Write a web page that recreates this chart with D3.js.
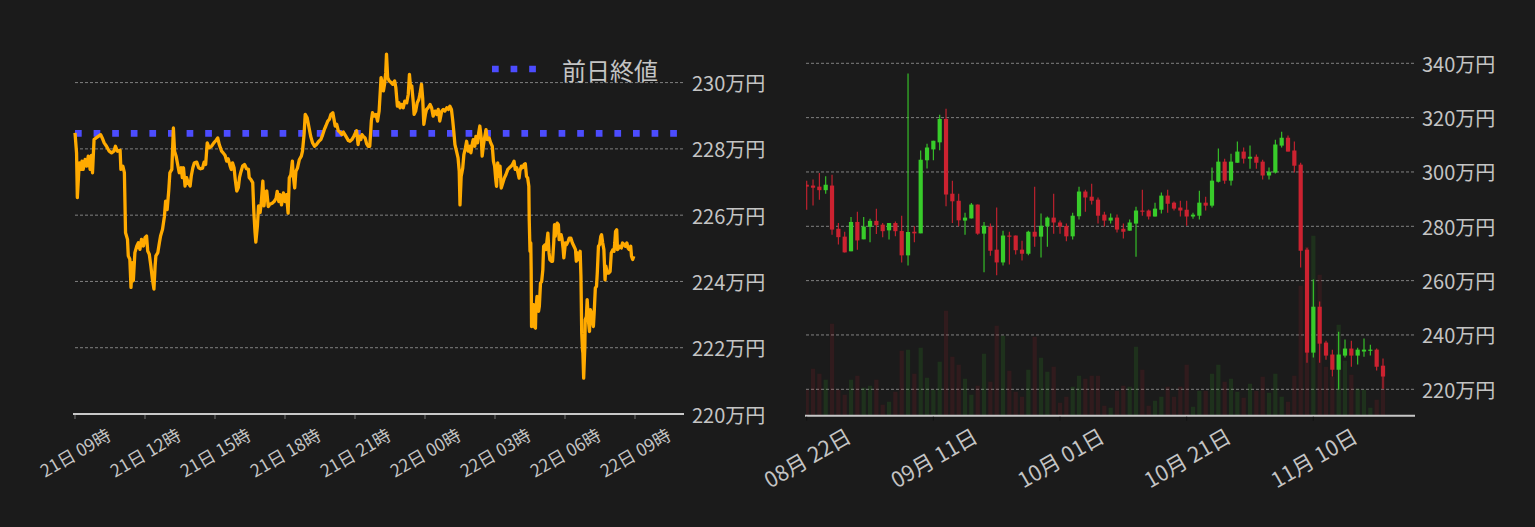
<!DOCTYPE html>
<html lang="ja">
<head>
<meta charset="UTF-8">
<title>ビットコイン チャート</title>
<script src="https://d3js.org/d3.v7.min.js"></script>
<style>
  body { margin: 0; background: #1b1b1b; }
  text { font-family: "Noto Sans CJK JP", "Noto Sans", sans-serif; fill: #c4c4c4; }
</style>
</head>
<body>
<svg width="1535" height="527" id="mainsvg"></svg>
<script>
// ---- left: intraday (minutes after 21日 09:00, 万円) ----
const prevClose = 228.47;
const intraday = [
  [0,228.48],[4,227.88],[6,226.53],[11,227.58],[15,227.38],[18,227.63],[21,227.38],[26,227.68],[30,227.48],[34,227.78],
  [39,227.38],[42,227.80],[45,227.28],[49,228.28],[54,228.33],[60,228.38],[66,228.43],[70,228.33],[75,228.18],[81,228.08],
  [88,227.93],[94,227.88],[100,227.93],[104,228.08],[109,227.93],[116,227.96],[118,227.38],[123,227.48],[127,227.28],[130,225.47],
  [135,225.27],[137,224.77],[141,224.67],[144,223.82],[147,224.57],[150,224.02],[154,224.87],[159,225.07],[163,225.17],[167,224.97],
  [171,225.27],[176,225.07],[180,225.32],[184,225.37],[187,224.92],[191,224.82],[195,224.47],[199,224.07],[203,223.77],[206,224.47],
  [208,224.77],[213,224.87],[217,225.17],[220,225.37],[225,225.57],[230,225.97],[233,226.42],[237,226.17],[241,226.73],[244,227.28],
  [249,227.38],[253,228.63],[256,227.93],[260,227.78],[264,227.53],[268,227.28],[273,227.43],[276,227.13],[279,227.43],[283,226.88],
  [287,227.13],[291,226.98],[296,226.88],[299,227.18],[303,227.43],[307,227.58],[313,227.60],[318,227.43],[323,227.40],[328,227.42],
  [332,227.60],[336,227.53],[340,228.18],[345,228.03],[351,228.08],[357,228.18],[363,228.26],[367,228.33],[371,228.13],[377,227.93],
  [381,227.88],[386,227.80],[390,227.63],[394,227.70],[399,227.48],[402,227.38],[405,227.58],[409,227.43],[412,227.08],[416,226.73],
  [420,226.83],[423,227.13],[426,227.28],[431,227.48],[436,227.53],[441,227.40],[446,227.38],[448,227.13],[452,227.08],[457,226.98],
  [460,226.08],[463,225.47],[465,225.19],[469,225.67],[472,226.28],[476,226.08],[479,226.38],[483,227.03],[486,226.28],[489,226.68],
  [493,226.73],[497,226.26],[501,226.33],
  [507,226.36],[512,226.41],[517,226.51],[520,226.72],[524,226.41],[527,226.62],[531,226.31],[536,226.67],[540,226.41],[544,226.62],
  [548,226.06],[551,227.12],[555,227.22],[559,227.63],[561,227.22],[565,226.82],[568,227.32],[572,227.42],[577,227.68],[582,227.78],
  [585,227.93],[589,228.43],[592,229.04],[597,228.94],[602,228.63],[606,228.38],[611,228.18],[616,228.08],[621,228.13],[627,228.23],
  [632,228.28],[637,228.43],[641,228.58],[645,228.69],[650,228.84],[654,228.89],[658,229.04],[663,229.09],[666,228.89],[669,228.69],
  [673,228.74],[677,228.55],[681,228.51],[686,228.43],[690,228.51],[694,228.43],[699,228.33],[703,228.25],[707,228.23],[712,228.28],
  [717,228.38],[721,228.48],[724,228.55],[728,228.13],[731,228.38],[735,228.28],[738,228.43],[741,228.38],[746,228.33],[750,228.15],
  [754,228.08],[758,228.08],[762,228.84],[765,229.09],[770,228.99],[774,229.04],[778,228.84],[782,229.14],[784,229.54],[787,230.15],
  [789,230.05],[793,229.75],[796,229.95],[799,230.30],[801,230.86],[804,230.15],[808,230.05],[813,230.00],[817,229.95],[822,230.05],
  [825,229.85],[829,229.29],[833,229.39],[836,229.24],[840,229.34],[844,229.24],[848,229.44],[853,229.39],[857,229.65],[860,230.25],
  [863,229.85],[866,229.90],[870,229.39],[872,229.04],[876,229.14],[880,229.39],[884,229.49],[887,229.65],[891,229.95],[894,229.54],
  [897,228.74],[901,229.04],[904,229.19],[908,229.24],[913,229.34],[917,229.24],[921,228.99],[926,229.14],[930,229.04],[934,229.19],
  [938,228.84],[943,229.14],[947,229.19],[951,229.14],[956,229.24],[960,229.19],[964,229.29],[968,229.19],[971,228.89],[974,228.53],
  [977,228.13],[981,227.93],[985,227.73],[988,227.32],[990,226.31],[993,227.17],[997,227.42],[1000,227.83],[1004,228.03],[1007,228.23],
  [1011,227.93],[1016,228.08],
  [1018,227.88],[1022,228.18],[1024,228.28],[1028,228.08],[1031,228.38],[1035,228.18],[1038,228.48],[1041,228.69],[1045,228.28],[1047,227.78],
  [1050,228.08],[1053,228.33],[1057,228.58],[1060,228.28],[1065,228.33],[1069,228.18],[1073,228.08],[1076,227.63],[1079,227.48],[1082,227.07],
  [1084,226.87],[1087,227.58],[1089,227.17],[1093,227.48],[1096,226.82],[1100,226.97],[1104,227.12],[1108,227.22],[1113,227.38],[1117,227.43],
  [1122,227.48],[1125,227.53],[1129,227.63],[1132,227.38],[1136,227.43],[1139,227.28],[1142,227.12],[1144,227.33],[1148,227.48],[1151,227.43],
  [1155,227.53],[1158,227.55],[1161,227.17],[1164,227.12],[1167,226.87],[1168,225.87],[1170,224.91],[1172,225.16],[1173,224.35],[1174,222.64],
  [1176,222.94],[1179,223.30],[1181,222.64],[1184,222.59],[1185,223.10],[1188,223.55],[1191,223.35],[1192,223.10],[1194,223.25],[1197,223.95],
  [1200,224.00],[1203,224.35],[1205,225.06],[1209,225.11],[1211,224.96],[1214,225.26],[1216,225.46],[1219,224.86],[1221,224.66],[1225,224.61],
  [1228,224.61],[1231,225.16],[1233,225.71],[1235,225.36],[1238,225.66],[1240,225.76],[1243,225.71],[1245,225.26],[1247,225.36],[1250,225.41],
  [1252,225.31],[1255,225.01],[1257,224.71],[1261,225.16],[1264,225.11],[1268,225.21],[1271,225.31],[1275,225.31],[1279,225.16],[1283,225.06],
  [1287,224.96],[1289,224.61],[1292,224.86],[1295,224.66],[1299,224.91],[1301,224.15],[1303,222.44],[1305,221.94],[1306,221.84],[1308,221.08],
  [1311,222.04],[1312,222.84],[1315,222.94],[1317,223.45],[1320,222.84],[1323,222.49],[1325,223.15],[1328,223.05],[1330,222.84],[1333,222.64],
  [1335,223.05],[1338,223.80],[1341,223.85],[1343,224.25],[1346,225.06],[1349,225.11],[1352,225.36],[1354,225.41],[1357,225.16],[1360,224.96],
  [1363,224.05],[1365,224.46],[1369,224.25],[1372,224.25],[1376,224.30],[1379,224.86],[1383,224.96],[1386,224.91],[1388,225.16],[1390,225.51],
  [1393,225.56],[1395,224.96],[1398,225.01],[1401,225.06],[1405,225.01],[1408,225.16],[1412,225.11],[1415,225.06],[1419,225.16],[1422,225.01],
  [1425,224.96],[1429,225.06],[1431,224.76],[1434,224.66],[1437,224.76]
];
const leftTicks = [220, 222, 224, 226, 228, 230];

// ---- right: daily candles from 2022-08-22 (万円) ----
const candleStart = '2022-08-22';
const opens = [295.3,295.0,294.6,293.3,295.0,279.1,276.2,270.8,281.6,275.2,279.8,282.0,280.6,278.5,281.2,278.3,269.3,278.0,277.4,304.3,
  308.3,310.9,319.5,292.0,289.4,282.1,282.9,288.0,277.3,279.9,271.4,266.7,276.6,276.6,271.4,269.9,278.0,276.2,280.0,283.2,
  281.4,280.1,276.3,283.7,292.8,290.9,289.8,284.3,282.1,283.2,279.1,278.4,281.0,285.8,285.8,283.6,286.1,291.3,288.7,286.9,
  286.1,283.6,283.9,288.7,287.6,296.4,303.8,296.8,303.4,307.5,304.9,305.6,303.8,298.7,299.8,309.7,312.6,307.9,302.7,271.4,
  233.5,250.4,237.2,232.8,227.2,232.4,235.0,232.4,233.9,234.2,234.6,228.7];
const closes = [294.6,294.2,293.3,295.3,278.8,276.0,270.4,281.6,274.8,279.9,282.0,280.4,278.2,281.2,278.2,269.3,277.9,277.4,304.5,309.0,
  311.5,319.5,291.7,289.2,282.2,283.2,288.0,277.3,280.2,271.0,266.7,276.6,276.2,271.2,269.9,278.0,276.2,280.2,283.2,281.4,
  279.9,276.3,283.9,292.8,290.6,289.4,283.9,282.1,283.2,278.8,278.0,281.4,285.8,285.4,283.6,286.5,291.3,288.3,286.5,285.8,
  283.6,284.3,288.7,287.6,296.8,303.8,296.8,303.8,307.5,304.9,305.6,303.4,298.7,300.1,310.1,312.6,307.5,302.3,271.0,233.5,
  250.4,236.8,232.4,227.2,232.8,235.0,232.4,234.6,234.6,234.6,228.3,224.7];
const highs = [296.8,297.2,299.6,298.4,299.0,281.2,278.0,283.4,285.4,283.4,282.8,286.5,281.2,281.2,281.8,283.9,336.2,280.0,307.9,310.4,
  311.5,321.1,323.3,296.8,292.0,285.0,288.6,288.0,281.6,281.0,286.9,278.4,278.0,276.6,274.7,278.4,294.6,284.7,283.6,292.0,
  282.1,281.0,285.0,294.6,293.5,295.7,290.6,285.4,284.7,284.3,281.0,282.5,287.2,293.5,286.2,288.7,292.4,293.5,289.1,289.4,
  289.4,285.0,293.1,290.9,301.6,308.6,304.9,306.7,311.2,309.0,309.7,306.4,304.5,301.6,311.9,314.8,313.4,311.2,303.4,272.1,
  260.4,252.3,237.9,234.6,241.2,238.3,237.9,235.3,238.7,236.4,235.0,231.3];
const lows = [286.1,287.7,289.8,292.0,276.9,273.3,270.4,270.8,271.4,275.2,274.1,277.2,276.0,275.1,276.3,266.7,265.6,274.1,277.4,301.3,
  304.3,308.0,287.4,281.2,280.0,276.9,282.9,276.9,263.1,269.2,262.0,265.6,265.9,269.6,267.4,269.3,272.5,268.5,272.5,277.3,
  277.3,274.5,275.1,282.5,285.4,288.0,281.0,279.9,281.0,277.7,275.5,278.4,268.8,283.9,282.5,283.6,284.7,285.0,285.8,283.6,
  280.2,282.8,282.5,285.8,286.9,296.1,295.7,295.0,303.4,303.1,301.2,301.2,297.2,297.2,299.4,309.0,307.5,299.8,264.8,229.8,
  231.7,229.8,230.9,224.7,219.9,231.7,228.3,229.1,232.0,232.4,226.9,220.2];
const volumes = [26,47,42,36,92,26,21,36,40,28,30,36,11,14,24,65,66,42,68,38,
  26,54,105,59,51,37,21,30,62,34,90,80,45,24,19,46,79,58,44,49,
  13,19,29,40,37,40,40,10,8,25,30,29,69,46,10,15,19,29,19,29,
  51,9,25,25,42,51,34,37,24,18,32,25,39,23,42,19,14,40,130,169,
  180,141,49,39,91,55,41,27,26,8,16,40];
const rightTicks = [220, 240, 260, 280, 300, 320, 340];
const dateTicks = ['2022-08-22', '2022-09-11', '2022-10-01', '2022-10-21', '2022-11-10'];

const svg = d3.select('#mainsvg');
svg.append('rect').attr('width', 1535).attr('height', 527).attr('fill', '#1b1b1b');

const gridColor = '#9a9a9a';
const axisColor = '#c8c8c8';

// ================= left chart =================
const L = { left: 75, right: 684, bottom: 414 };
const t0 = new Date(2022, 10, 21, 9, 0);
const xL = d3.scaleTime().domain([t0, d3.timeMinute.offset(t0, 1566)]).range([L.left, L.right]);
const yL = d3.scaleLinear().domain([220, 230]).range([L.bottom, 82.6]);

const gl = svg.append('g');
gl.selectAll('line.grid').data(leftTicks.filter(d => d > 220)).enter()
  .append('line')
  .attr('x1', L.left).attr('x2', L.right)
  .attr('y1', d => yL(d)).attr('y2', d => yL(d))
  .attr('stroke', gridColor).attr('stroke-width', 0.8).attr('stroke-dasharray', '3,2');

gl.selectAll('text.ylab').data(leftTicks).enter()
  .append('text')
  .attr('x', L.right + 8).attr('y', d => yL(d))
  .attr('dominant-baseline', 'central')
  .attr('font-size', 20)
  .text(d => d + '万円');

// x axis
gl.append('line').attr('x1', L.left - 2).attr('x2', L.right)
  .attr('y1', L.bottom).attr('y2', L.bottom)
  .attr('stroke', axisColor).attr('stroke-width', 2);
const hourTicks = xL.ticks(d3.timeHour.every(3));
const fmtL = d3.timeFormat('%d日 %H時');
gl.selectAll('line.xt').data(hourTicks).enter().append('line')
  .attr('x1', d => xL(d)).attr('x2', d => xL(d))
  .attr('y1', L.bottom + 1).attr('y2', L.bottom + 5)
  .attr('stroke', '#777');
gl.selectAll('text.xlab').data(hourTicks).enter().append('text')
  .attr('transform', d => `translate(${xL(d)},${L.bottom + 38}) rotate(-30)`)
  .attr('text-anchor', 'middle').attr('dominant-baseline', 'central')
  .attr('font-size', 17.5)
  .text(d => fmtL(d));

// previous close
gl.append('line').attr('x1', L.left).attr('x2', L.right)
  .attr('y1', yL(prevClose)).attr('y2', yL(prevClose))
  .attr('stroke', '#4c4cff').attr('stroke-width', 6.7).attr('stroke-dasharray', '6.7,11.9');

// price line
const line = d3.line()
  .x(d => xL(d3.timeMinute.offset(t0, d[0])))
  .y(d => yL(d[1]));
gl.append('path').datum(intraday)
  .attr('d', line)
  .attr('fill', 'none').attr('stroke', '#ffaa00').attr('stroke-width', 3.3)
  .attr('stroke-linejoin', 'round');

// legend
gl.append('line').attr('x1', 492).attr('x2', 540).attr('y1', 69).attr('y2', 69)
  .attr('stroke', '#4c4cff').attr('stroke-width', 6.7).attr('stroke-dasharray', '6.7,11.9');
gl.append('text').attr('x', 562).attr('y', 69).attr('dominant-baseline', 'central')
  .attr('font-size', 24).text('前日終値');

// ================= right chart =================
const R = { left: 806, right: 1415, bottom: 415.7 };
const parseDay = d3.timeParse('%Y-%m-%d');
const d0 = parseDay(candleStart);
const days = d3.timeDay.range(d0, d3.timeDay.offset(d0, opens.length));
const candles = days.map((d, i) => ({
  date: d, o: opens[i], h: highs[i], l: lows[i], c: closes[i], v: volumes[i]
}));
const xR = d3.scaleTime().domain([d0, d3.timeDay.offset(d0, 96)]).range([806.7, 806.7 + 96 * 6.333]);
const yR = d3.scaleLinear().domain([220, 340]).range([389.3, 63.3]);
const yV = d3.scaleLinear().domain([0, d3.max(volumes)]).range([R.bottom, 235.7]);
const upColor = '#38cc2a';
const downColor = '#cc2230';
const colorOf = d => d.c >= d.o ? upColor : downColor;

const gr = svg.append('g');
gr.append('clipPath').attr('id', 'rclip').append('rect')
  .attr('x', R.left).attr('y', 0).attr('width', R.right - R.left).attr('height', R.bottom);

gr.selectAll('line.grid').data(rightTicks).enter()
  .append('line')
  .attr('x1', R.left).attr('x2', R.right)
  .attr('y1', d => yR(d)).attr('y2', d => yR(d))
  .attr('stroke', gridColor).attr('stroke-width', 0.8).attr('stroke-dasharray', '3,2');

gr.selectAll('text.ylab').data(rightTicks).enter()
  .append('text')
  .attr('x', R.right + 7).attr('y', d => yR(d))
  .attr('dominant-baseline', 'central')
  .attr('font-size', 20)
  .text(d => d + '万円');

const body = gr.append('g').attr('clip-path', 'url(#rclip)');
const bw = 4.2;
body.selectAll('rect.vol').data(candles).enter().append('rect')
  .attr('x', d => xR(d.date) - bw / 2).attr('width', bw)
  .attr('y', d => yV(d.v)).attr('height', d => R.bottom - yV(d.v))
  .attr('fill', colorOf).attr('fill-opacity', 0.13);

body.selectAll('line.wick').data(candles).enter().append('line')
  .attr('x1', d => xR(d.date)).attr('x2', d => xR(d.date))
  .attr('y1', d => yR(d.h)).attr('y2', d => yR(d.l))
  .attr('stroke', colorOf).attr('stroke-width', 1.1);

body.selectAll('rect.candle').data(candles).enter().append('rect')
  .attr('x', d => xR(d.date) - bw / 2).attr('width', bw)
  .attr('y', d => yR(Math.max(d.o, d.c)))
  .attr('height', d => Math.max(1.2, Math.abs(yR(d.o) - yR(d.c))))
  .attr('fill', colorOf);

gr.append('line').attr('x1', R.left - 1).attr('x2', R.right)
  .attr('y1', R.bottom).attr('y2', R.bottom)
  .attr('stroke', axisColor).attr('stroke-width', 2);
const fmtR = d3.timeFormat('%m月 %d日');
const dTicks = dateTicks.map(parseDay);
gr.selectAll('line.xt').data(dTicks).enter().append('line')
  .attr('x1', d => xR(d)).attr('x2', d => xR(d))
  .attr('y1', R.bottom + 1).attr('y2', R.bottom + 5)
  .attr('stroke', '#111');
gr.selectAll('text.xlab').data(dTicks).enter().append('text')
  .attr('transform', d => `translate(${xR(d)},${R.bottom + 41}) rotate(-30)`)
  .attr('text-anchor', 'middle').attr('dominant-baseline', 'central')
  .attr('font-size', 21.5)
  .text(d => fmtR(d));
</script>
</body>
</html>
